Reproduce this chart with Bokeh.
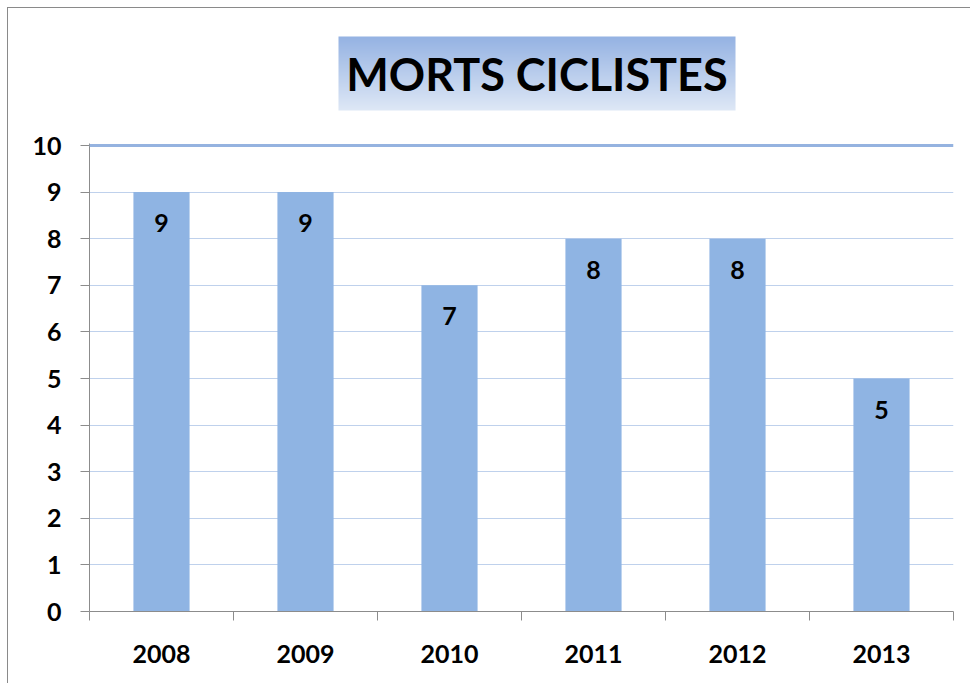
import numpy as np
from bokeh.plotting import figure
from bokeh.layouts import column
from bokeh.models import Range1d, FixedTicker, Span, ColumnDataSource
from bokeh.core.properties import value
from bokeh.embed import file_html
from bokeh.resources import INLINE

# ---- data ----
years = ["2008", "2009", "2010", "2011", "2012", "2013"]
deaths = [9, 9, 7, 8, 8, 5]
y_ticks = [0, 1, 2, 3, 4, 5, 6, 7, 8, 9, 10]
title_text = "MORTS CICLISTES"

FONT = "Lato"
W = 962
BL, BR = 81, 17

# ---- header (title box with gradient) ----
HH = 120
hdr = figure(width=W, height=HH, x_range=Range1d(BL, W - BR), y_range=Range1d(0, HH),
             output_backend="svg", toolbar_location=None, min_border=0,
             min_border_left=BL, min_border_right=BR)
hdr.axis.visible = False
hdr.grid.visible = False
hdr.outline_line_color = None

box_left, box_top, box_w, box_h = 330, 28, 397, 74
top_c = np.array([0x95, 0xb3, 0xe3], dtype=float)
bot_c = np.array([0xde, 0xe8, 0xf6], dtype=float)
n = 74
img = np.zeros((n, 1), dtype=np.uint32)
view = img.view(dtype=np.uint8).reshape((n, 1, 4))
for i in range(n):
    t = i / (n - 1)  # row 0 = bottom
    c = bot_c * (1 - t) + top_c * t
    view[i, 0, 0] = int(c[0]); view[i, 0, 1] = int(c[1]); view[i, 0, 2] = int(c[2]); view[i, 0, 3] = 255
hdr.image_rgba(image=[img], x=box_left, y=HH - box_top - box_h, dw=box_w, dh=box_h)
hdr.text(x=[box_left + box_w / 2], y=[HH - box_top - box_h / 2], text=[title_text],
         text_align="center", text_baseline="middle",
         text_font=value(FONT), text_font_style="bold", text_font_size="45px",
         text_color="black")

# ---- main chart ----
pos = [i + 0.5 for i in range(len(years))]
src = ColumnDataSource(dict(x=pos, top=deaths, lbl=[str(v) for v in deaths]))

y_top = 10 + 2 / 46.6
p = figure(width=W, height=555, x_range=Range1d(0, len(years)), y_range=Range1d(0, y_top),
           output_backend="svg", toolbar_location=None,
           min_border_left=BL, min_border_right=BR, min_border_top=15, min_border_bottom=72)
p.outline_line_color = None
p.background_fill_color = "white"
p.border_fill_color = "white"

p.vbar(x="x", top="top", width=0.39, source=src, fill_color="#8fb4e3", line_color=None)
p.text(x="x", y="top", text="lbl", source=src, text_align="center", text_baseline="middle",
       y_offset=31, text_font=value(FONT), text_font_style="bold", text_font_size="25px",
       text_color="black")

# axes
p.xgrid.visible = False
p.ygrid.ticker = FixedTicker(ticks=y_ticks[:-1])
p.ygrid.grid_line_color = "#bfd1ec"
p.ygrid.grid_line_width = 1

p.yaxis.ticker = FixedTicker(ticks=y_ticks)
p.yaxis.axis_line_color = "#8c8c8c"
p.yaxis.major_tick_line_color = "#8c8c8c"
p.yaxis.major_tick_out = 9
p.yaxis.major_tick_in = 0
p.yaxis.minor_tick_line_color = None
p.yaxis.major_label_standoff = 19
p.yaxis.major_label_text_font = FONT
p.yaxis.major_label_text_font_style = "bold"
p.yaxis.major_label_text_font_size = "25px"
p.yaxis.major_label_text_color = "black"

p.xaxis.ticker = FixedTicker(ticks=pos, minor_ticks=list(range(len(years) + 1)))
p.xaxis.major_label_overrides = {x: y for x, y in zip(pos, years)}
p.xaxis.axis_line_color = "#8c8c8c"
p.xaxis.major_tick_line_color = None
p.xaxis.major_tick_out = 0
p.xaxis.major_tick_in = 0
p.xaxis.minor_tick_line_color = "#8c8c8c"
p.xaxis.minor_tick_out = 9
p.xaxis.minor_tick_in = 0
p.xaxis.major_label_standoff = 24
p.xaxis.major_label_text_font = FONT
p.xaxis.major_label_text_font_style = "bold"
p.xaxis.major_label_text_font_size = "25px"
p.xaxis.major_label_text_color = "black"

p.add_layout(Span(location=10, dimension="width", line_color="#95b3e0", line_width=3))

root = column(hdr, p, spacing=0,
              styles={"border-left": "1px solid #8a8a8a", "border-top": "1px solid #8a8a8a",
                      "margin-left": "7px", "margin-top": "7px"})

open("out.html", "w").write(file_html(root, INLINE))
